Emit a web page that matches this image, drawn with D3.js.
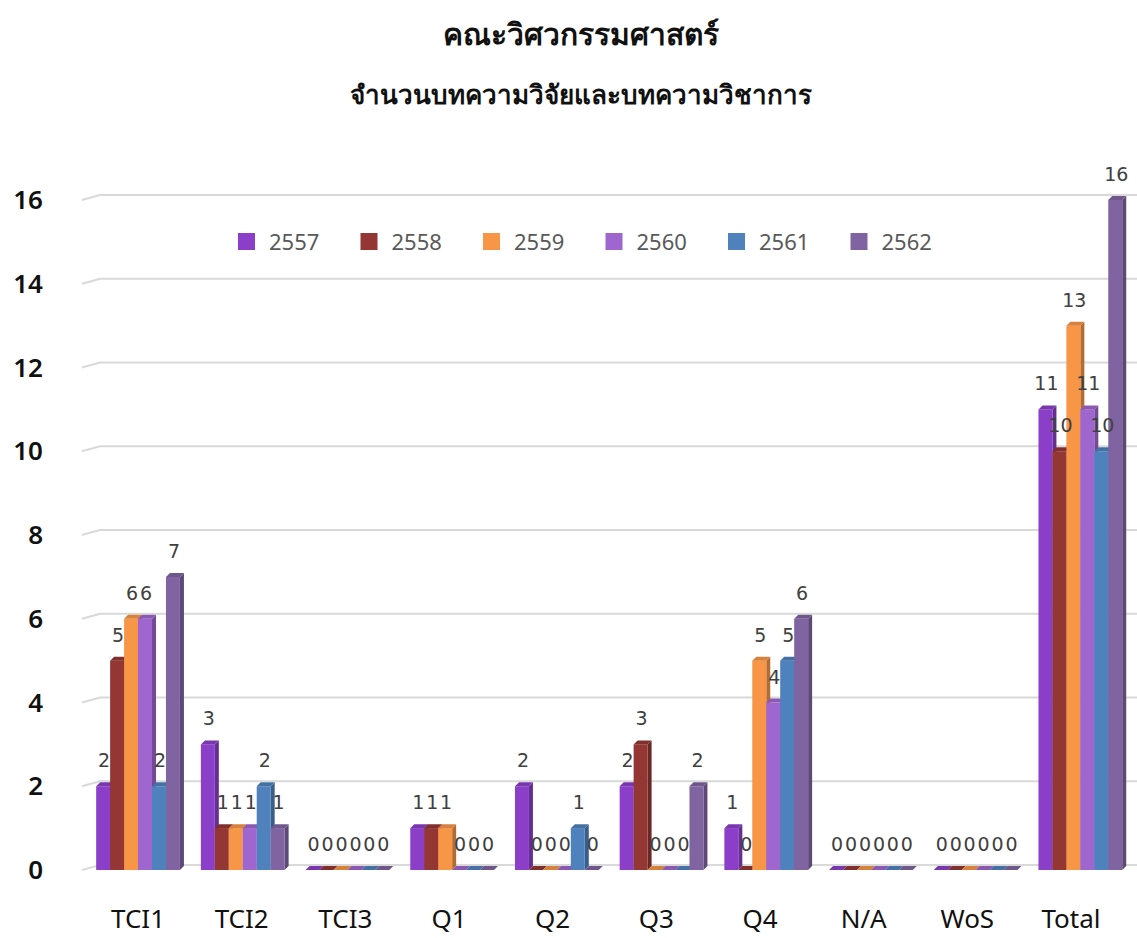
<!DOCTYPE html>
<html><head><meta charset="utf-8">
<script src="https://cdn.jsdelivr.net/npm/d3@7"></script>
<style>body{margin:0;background:#fff;}svg{display:block;}</style>
</head><body>
<svg id="c" width="1137" height="938"></svg>
<script>
const categories = ["TCI1","TCI2","TCI3","Q1","Q2","Q3","Q4","N/A","WoS","Total"];
const years = ["2557","2558","2559","2560","2561","2562"];
const s2557 = [2,3,0,1,2,2,1,0,0,11];
const s2558 = [5,1,0,1,0,3,0,0,0,10];
const s2559 = [6,1,0,1,0,0,5,0,0,13];
const s2560 = [6,1,0,0,0,0,4,0,0,11];
const s2561 = [2,2,0,0,1,0,5,0,0,10];
const s2562 = [7,1,0,0,0,2,6,0,0,16];
const yTicks = [0,2,4,6,8,10,12,14,16];
const colors = ["#8B3FC8","#943634","#F79646","#A066D0","#4F81BD","#8064A2"];
const seriesVals = [s2557,s2558,s2559,s2560,s2561,s2562];

const svg = d3.select("#c");
const font = "'Noto Sans','Open Sans',sans-serif";
const labFont = "'DejaVu Sans',sans-serif";

svg.append("text").attr("x",581).attr("y",45).attr("text-anchor","middle")
  .attr("font-family",font).attr("font-weight","bold").attr("font-size",30).attr("fill","#111")
  .text("คณะวิศวกรรมศาสตร์");
svg.append("text").attr("x",581).attr("y",104).attr("text-anchor","middle")
  .attr("font-family",font).attr("font-weight","bold").attr("font-size",26).attr("fill","#111")
  .text("จำนวนบทความวิจัยและบทความวิชาการ");

const y = d3.scaleLinear().domain([0,16]).range([870,200]);
const x = d3.scaleBand().domain(categories).range([85.7,1132.7]).paddingInner(0.2).paddingOuter(0.1);
const xs = d3.scaleBand().domain(years).range([0,x.bandwidth()]);
const xLab = d3.scalePoint().domain(categories).range([138,1071]);
const depth = 4;

// gridlines
const g = svg.append("g");
yTicks.forEach(t => {
  const yy = y(t) - 5;
  g.append("path").attr("d",`M82,${yy+5} L100,${yy} L1137,${yy}`)
    .attr("fill","none").attr("stroke","#d9d9d9").attr("stroke-width",2);
});
// y tick labels
svg.append("g").selectAll("text").data(yTicks).join("text")
  .attr("x",43).attr("y",d=>y(d)+9).attr("text-anchor","end")
  .attr("font-family",font).attr("font-weight",600).attr("font-size",26).attr("fill","#111")
  .text(d=>d);

// bars
const bw = xs.bandwidth();
const bars = svg.append("g");
categories.forEach((c,ci) => {
  years.forEach((yr,si) => {
    const v = seriesVals[si][ci];
    const x0 = x(c) + xs(yr);
    const top = y(v), bot = y(0);
    const col = d3.color(colors[si]);
    const gg = bars.append("g");
    gg.append("path").attr("d",`M${x0+bw},${top} L${x0+bw+depth},${top-depth} L${x0+bw+depth},${bot-depth} L${x0+bw},${bot} Z`)
      .attr("fill",col.darker(0.9));
    gg.append("rect").attr("x",x0).attr("y",top).attr("width",bw).attr("height",Math.max(0,bot-top))
      .attr("fill",col);
    gg.append("path").attr("d",`M${x0},${top} L${x0+depth},${top-depth} L${x0+bw+depth},${top-depth} L${x0+bw},${top} Z`)
      .attr("fill",col.darker(0.4));
  });
});
// value labels
const labs = svg.append("g");
categories.forEach((c,ci) => {
  years.forEach((yr,si) => {
    const v = seriesVals[si][ci];
    labs.append("text").attr("x",x(c)+xs(yr)+bw/2+1).attr("y",y(v)-19)
      .attr("text-anchor","middle").attr("font-family",labFont).attr("font-size",19).attr("fill","#404040")
      .text(v);
  });
});
// category labels
svg.append("g").selectAll("text").data(categories).join("text")
  .attr("x",d=>xLab(d)).attr("y",928).attr("text-anchor","middle")
  .attr("font-family",font).attr("font-size",26).attr("fill","#111").text(d=>d);

// legend
const leg = svg.append("g");
years.forEach((yr,i) => {
  const lx = 238 + i*122.5;
  leg.append("rect").attr("x",lx).attr("y",233).attr("width",17).attr("height",17).attr("fill",colors[i]);
  leg.append("text").attr("x",lx+31).attr("y",250).attr("font-family",font).attr("font-size",22)
    .attr("fill","#595959").text(yr);
});
</script>
</body></html>
